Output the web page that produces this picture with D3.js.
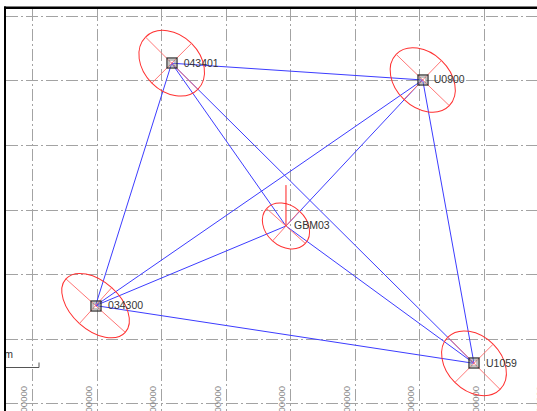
<!DOCTYPE html>
<html>
<head>
<meta charset="utf-8">
<script src="https://cdn.jsdelivr.net/npm/d3@7"></script>
<style>
  html, body { margin: 0; padding: 0; background: #fff; }
  svg { display: block; }
</style>
</head>
<body>
<svg id="net" width="537" height="411"></svg>
<script>
// Station names and plane coordinates (metres)
const stations = ["043401", "U0900", "GBM03", "034300", "U1059"];
const easting  = [3516100, 3905300, 3693300, 3398100, 3984800];
const northing = [2526800, 2500800, 2274400, 2151000, 2061500];

// Point error ellipses (mm) and azimuth of the major axis (deg from north)
const semiMajor = [11.2, 11.2, 7.9, 12.1, 11.2];
const semiMinor = [8.5, 8.2, 6.1, 7.3, 8.2];
const azimuth   = [135, 134, 132, 132, 135];
// Height error (mm)
const heightErr = [0, 0, 12.4, 0, 0];

// Observed baselines between stations
const baselines = [
  ["043401", "U0900"], ["043401", "034300"], ["043401", "GBM03"], ["043401", "U1059"],
  ["U0900", "034300"], ["U0900", "GBM03"], ["U0900", "U1059"],
  ["034300", "GBM03"], ["034300", "U1059"], ["GBM03", "U1059"]
];

// Grid values (metres)
const gridEast  = [3300000, 3400000, 3500000, 3600000, 3700000, 3800000, 3900000, 4000000, 4100000];
const gridNorth = [2600000, 2500000, 2400000, 2300000, 2200000, 2100000, 2000000];
const eastLabels = gridEast.map(String);

const W = 537, H = 411;
const svg = d3.select("#net");

const x = d3.scaleLinear().domain([3300000, 4000000]).range([32.3, 483.8]);
const y = d3.scaleLinear().domain([2600000, 2000000]).range([16, 403]);
// error-ellipse scale: mm -> px
const e = d3.scaleLinear().domain([0, 10]).range([0, 33]);

const defs = svg.append("defs");
defs.append("clipPath").attr("id", "plot")
  .append("rect").attr("x", 6).attr("y", 9).attr("width", W - 6).attr("height", H - 9);

const g = svg.append("g").attr("clip-path", "url(#plot)");

// grid
const gridStyle = s => s.attr("stroke", "#a3a3a3").attr("stroke-width", 1)
  .attr("stroke-dasharray", "12,3,2,3").attr("fill", "none");
g.append("g").selectAll("line").data(gridNorth).join("line")
  .attr("x1", 6).attr("x2", W).attr("y1", d => Math.round(y(d)) + 0.5).attr("y2", d => Math.round(y(d)) + 0.5)
  .call(gridStyle);
g.append("g").selectAll("line").data(gridEast).join("line")
  .attr("y1", 9).attr("y2", H).attr("x1", d => Math.round(x(d)) + 0.5).attr("x2", d => Math.round(x(d)) + 0.5)
  .call(gridStyle);

// easting labels along the bottom
g.append("g").selectAll("text").data(gridEast).join("text")
  .attr("transform", d => `translate(${x(d) - 5.3},386) rotate(-90)`)
  .attr("text-anchor", "end")
  .attr("font-family", "Liberation Sans, Arial, sans-serif")
  .attr("font-size", 9.5)
  .attr("fill", "#8a8a8a")
  .text((d, i) => eastLabels[i]);

// station lookup
const pos = {};
stations.forEach((s, i) => { pos[s] = [x(easting[i]), y(northing[i])]; });

// baselines
g.append("g").selectAll("line").data(baselines).join("line")
  .attr("x1", d => pos[d[0]][0]).attr("y1", d => pos[d[0]][1])
  .attr("x2", d => pos[d[1]][0]).attr("y2", d => pos[d[1]][1])
  .attr("stroke", "#3c3cff").attr("stroke-width", 1);

// error ellipses
const st = stations.map((s, i) => ({
  name: s, px: pos[s][0], py: pos[s][1],
  a: e(semiMajor[i]), b: e(semiMinor[i]), rot: azimuth[i] - 90, h: e(heightErr[i])
}));

const ell = g.append("g").selectAll("g").data(st).join("g")
  .attr("transform", d => `translate(${d.px},${d.py}) rotate(${d.rot})`);
ell.append("ellipse")
  .attr("rx", d => d.a).attr("ry", d => d.b)
  .attr("fill", "none").attr("stroke", "#ff3030").attr("stroke-width", 1);
ell.append("line").attr("x1", d => -d.a).attr("x2", d => d.a).attr("y1", 0).attr("y2", 0)
  .attr("stroke", "#ff7070").attr("stroke-width", 0.9);
ell.append("line").attr("y1", d => -d.b).attr("y2", d => d.b).attr("x1", 0).attr("x2", 0)
  .attr("stroke", "#ff7070").attr("stroke-width", 0.9);

// height error bars
g.append("g").selectAll("line").data(st.filter(d => d.h > 0)).join("line")
  .attr("x1", d => d.px).attr("x2", d => d.px)
  .attr("y1", d => d.py).attr("y2", d => d.py - d.h)
  .attr("stroke", "#ff2020").attr("stroke-width", 1);

// station markers (all but GBM03 carry a fixed-point square)
const mk = g.append("g").selectAll("g").data(st.filter(d => d.name !== "GBM03")).join("g")
  .attr("transform", d => `translate(${Math.round(d.px)},${Math.round(d.py)})`);
mk.append("rect").attr("x", -5).attr("y", -5).attr("width", 10).attr("height", 10)
  .attr("fill", "none").attr("stroke", "#333").attr("stroke-width", 1.3);
mk.append("rect").attr("x", -3).attr("y", -3).attr("width", 6).attr("height", 6)
  .attr("fill", "none").attr("stroke", "#8a8a8a").attr("stroke-width", 1);

// station names
const labelDx = [12, 11, 8, 12.5, 12];
const labelDy = [3.5, 3.5, 3, 3, 4];
g.append("g").selectAll("text").data(st).join("text")
  .attr("x", (d, i) => d.px + labelDx[i]).attr("y", (d, i) => d.py + labelDy[i])
  .attr("font-family", "Liberation Sans, Arial, sans-serif")
  .attr("font-size", 10.5).attr("fill", "#333")
  .text(d => d.name);

// ellipse scale bar
const bar = g.append("g").attr("stroke", "#555").attr("fill", "none");
bar.append("path")
  .attr("d", `M6,367.5H${6 + e(10)}V362.5`).attr("stroke-width", 1);
g.append("text").attr("x", 13).attr("y", 358).attr("text-anchor", "end")
  .attr("font-family", "Liberation Sans, Arial, sans-serif").attr("font-size", 10.5)
  .attr("fill", "#333").text("0.01m");

// frame
svg.append("line").attr("x1", 4).attr("x2", W).attr("y1", 7.8).attr("y2", 7.8)
  .attr("stroke", "#000").attr("stroke-width", 2.5);
svg.append("line").attr("x1", 5).attr("x2", 5).attr("y1", 6.5).attr("y2", H)
  .attr("stroke", "#000").attr("stroke-width", 2);
</script>
</body>
</html>
